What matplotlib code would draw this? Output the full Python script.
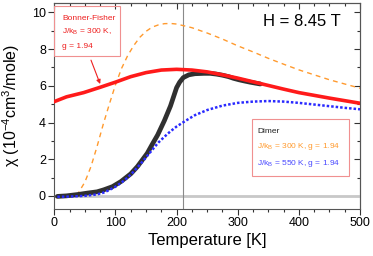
import matplotlib
matplotlib.use("Agg")
import matplotlib.pyplot as plt
from matplotlib.patches import Rectangle
from matplotlib.ticker import MultipleLocator

plt.rcParams["font.family"] = ["Liberation Sans", "DejaVu Sans"]
plt.rcParams["mathtext.fontset"] = "custom"
plt.rcParams["mathtext.rm"] = "Liberation Sans"
plt.rcParams["mathtext.it"] = "Liberation Sans:italic"

# ---- data ------------------------------------------------------------------
# measured chi(T), 10^-4 cm^3/mole
data_T = [5, 20, 40, 54, 70, 81, 95, 109, 125, 136, 152, 160, 169, 180, 190,
          200, 205, 211, 220, 230, 245, 255, 265, 275, 285, 293, 302, 310,
          320, 330, 337]
data_chi = [-0.03, 0.0, 0.08, 0.15, 0.22, 0.33, 0.5, 0.78, 1.2, 1.6, 2.32,
            2.8, 3.32, 4.1, 4.9, 5.9, 6.2, 6.45, 6.6, 6.66, 6.68, 6.68, 6.64,
            6.58, 6.5, 6.41, 6.33, 6.27, 6.2, 6.14, 6.1]

# Bonner-Fisher chain, J/kB = 300 K, g = 1.94
bf_T = [0, 20, 48, 75, 100, 125, 150, 175, 200, 225, 250, 275, 300, 325,
        350, 375, 400, 425, 450, 475, 500]
bf_chi = [5.14, 5.4, 5.63, 5.92, 6.2, 6.5, 6.72, 6.86, 6.9, 6.86, 6.76,
          6.6, 6.42, 6.22, 6.02, 5.82, 5.63, 5.48, 5.33, 5.19, 5.05]

# dimer, J/kB = 300 K, g = 1.94
d300_T = [37, 40, 50, 60, 70, 80, 90, 100, 110, 120, 130, 140, 150, 160,
          170, 180, 190, 200, 225, 250, 275, 300, 325, 350, 375, 400, 425,
          450, 475, 500]
d300_chi = [0.0, 0.2, 0.75, 1.6, 2.7, 3.9, 5.0, 6.05, 6.95, 7.65, 8.2, 8.65,
            8.97, 9.2, 9.32, 9.39, 9.4, 9.37, 9.17, 8.88, 8.55, 8.18, 7.85,
            7.5, 7.18, 6.87, 6.6, 6.33, 6.1, 5.87]

# dimer, J/kB = 550 K, g = 1.94
d550_T = [5, 25, 50, 70, 80, 90, 100, 110, 120, 130, 140, 150, 160, 170,
          180, 190, 200, 215, 230, 250, 275, 300, 325, 350, 375, 400, 425,
          450, 475, 500]
d550_chi = [-0.05, -0.04, 0.0, 0.08, 0.17, 0.32, 0.5, 0.73, 1.0, 1.33, 1.7,
            2.1, 2.5, 2.9, 3.22, 3.52, 3.78, 4.1, 4.4, 4.68, 4.92, 5.07, 5.14,
            5.17, 5.14, 5.07, 4.98, 4.89, 4.8, 4.72]

T_MARK = 210          # vertical guide line
X_LIM = (0, 500)
Y_LIM = (-0.7, 10.5)

# ---- figure ----------------------------------------------------------------
fig = plt.figure(figsize=(3.73, 2.56), dpi=100)
ax = fig.add_axes([0.1456, 0.1848, 0.8196, 0.8023])

ax.axhline(0, color="#c8c8c8", lw=2, zorder=1)
ax.axvline(T_MARK, color="#8a8a8a", lw=0.8, zorder=1)

ax.plot(d300_T, d300_chi, color="#ff9a2e", lw=1.0, ls=(0, (3.5, 3)), zorder=2)
ax.plot(data_T, data_chi, color="#303030", lw=3.4, solid_capstyle="round",
        zorder=3)
ax.plot(d550_T, d550_chi, color="#2a2aff", lw=1.8, ls=(0, (1, 0.8)),
        zorder=4)
ax.plot(bf_T, bf_chi, color="#ff1a1a", lw=2.6, zorder=5)

ax.set_xlim(*X_LIM)
ax.set_ylim(*Y_LIM)
ax.xaxis.set_major_locator(MultipleLocator(100))
ax.xaxis.set_minor_locator(MultipleLocator(25))
ax.yaxis.set_major_locator(MultipleLocator(2))
ax.yaxis.set_minor_locator(MultipleLocator(1))
ax.tick_params(which="both", direction="out", colors="#333333",
               labelcolor="black", labelsize=9, width=0.8)
ax.tick_params(which="major", length=4, pad=2)
ax.tick_params(which="minor", length=2)

# mirrored ticks pointing inwards on top and right
top = ax.secondary_xaxis("top")
right = ax.secondary_yaxis("right")
for sec, axis in ((top, top.xaxis), (right, right.yaxis)):
    sec.tick_params(which="both", direction="in", labelleft=False,
                    labelright=False, labeltop=False, labelbottom=False,
                    colors="#333333", width=0.8)
    sec.tick_params(which="major", length=4)
    sec.tick_params(which="minor", length=2)
top.xaxis.set_major_locator(MultipleLocator(100))
top.xaxis.set_minor_locator(MultipleLocator(25))
right.yaxis.set_major_locator(MultipleLocator(2))
right.yaxis.set_minor_locator(MultipleLocator(1))
for sp in list(ax.spines.values()) + [top.spines["top"], right.spines["right"]]:
    sp.set_color("#555555")
    sp.set_linewidth(0.8)

ax.set_xlabel("Temperature [K]", fontsize=12, labelpad=3)
ax.set_ylabel("χ (10$^{-4}$cm$^{3}$/mole)", fontsize=11.5)
ax.yaxis.set_label_coords(-0.105, 0.5)

ax.text(0.81, 0.91, "H = 8.45 T", transform=ax.transAxes, fontsize=12,
        ha="center", va="center")

# Bonner-Fisher label box + arrow
ax.add_patch(Rectangle((0.0, 0.742), 0.215, 0.243, transform=ax.transAxes,
                       fill=False, ec="#f09090", lw=0.8, zorder=6))
bf_lines = ["Bonner-Fisher", "J/k$_\\mathrm{B}$ = 300 K,", "g = 1.94"]
for txt, yy in zip(bf_lines, [0.928, 0.859, 0.791]):
    ax.text(0.026, yy, txt, transform=ax.transAxes, fontsize=6,
            color="#ee2020", va="center", ha="left")
ax.annotate("", xy=(75, 6.1), xytext=(60, 7.4),
            arrowprops=dict(arrowstyle="-|>", color="#ee2020", lw=0.8,
                            mutation_scale=6, shrinkA=0, shrinkB=0))

# Dimer label box
ax.add_patch(Rectangle((0.646, 0.161), 0.318, 0.276, transform=ax.transAxes,
                       fill=False, ec="#f09090", lw=0.8, zorder=6))
dimer_lines = [("Dimer", "#222222"),
               ("J/k$_\\mathrm{B}$ = 300 K, g = 1.94", "#ff9a2e"),
               ("J/k$_\\mathrm{B}$ = 550 K, g = 1.94", "#4a4aff")]
for (txt, col), yy in zip(dimer_lines, [0.375, 0.302, 0.221]):
    ax.text(0.664, yy, txt, transform=ax.transAxes, fontsize=6,
            color=col, va="center", ha="left")

fig.savefig("out.png", dpi=100)
